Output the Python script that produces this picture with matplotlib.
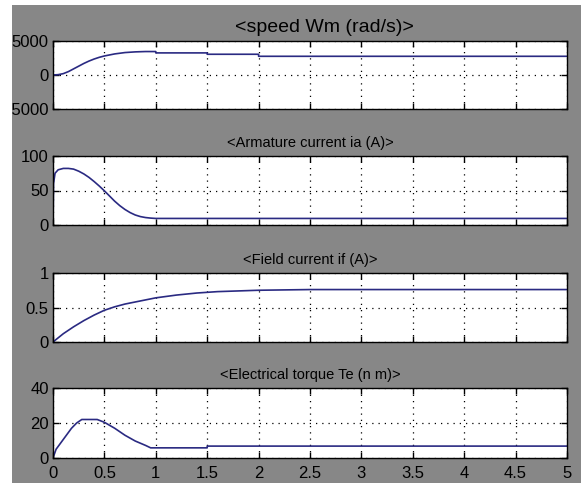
import matplotlib
matplotlib.use("Agg")
import matplotlib.pyplot as plt
from matplotlib.patches import Rectangle

# speed Wm (rad/s)
t_speed = [0, 0.05, 0.1, 0.15, 0.2, 0.25, 0.3, 0.35, 0.4, 0.45, 0.5, 0.6, 0.7,
           0.8, 0.9, 1.0, 1.0, 1.5, 1.5, 2.0, 2.0, 5.0]
speed = [0, 50, 200, 500, 900, 1300, 1700, 2050, 2350, 2600, 2800, 3100, 3300,
         3400, 3450, 3450, 3250, 3250, 3050, 3050, 2750, 2750]

# armature current ia (A)
t_ia = [0, 0.005, 0.02, 0.05, 0.1, 0.15, 0.2, 0.25, 0.3, 0.35, 0.4, 0.45, 0.5,
        0.55, 0.6, 0.65, 0.7, 0.75, 0.8, 0.85, 0.9, 0.95, 1.0, 5.0]
ia = [0, 60, 75, 80, 82, 82, 81, 78, 74, 69, 63, 56.5, 49.5,
      42, 34.5, 28, 22.5, 18, 14.5, 12.2, 10.8, 10, 9.5, 9.5]

# field current if (A)
t_if = [0, 0.1, 0.2, 0.3, 0.4, 0.5, 0.6, 0.7, 0.8, 0.9, 1.0, 1.2, 1.4, 1.6,
        1.8, 2.0, 2.5, 3.0, 5.0]
i_f = [0, 0.12, 0.22, 0.31, 0.39, 0.46, 0.51, 0.55, 0.58, 0.61, 0.64, 0.68,
       0.71, 0.73, 0.74, 0.75, 0.76, 0.76, 0.76]

# electrical torque Te (n m)
t_te = [0, 0.03, 0.08, 0.13, 0.18, 0.23, 0.28, 0.35, 0.43, 0.5, 0.6, 0.7, 0.8,
        0.9, 0.95, 1.5, 1.5, 5.0]
te = [0, 5, 9, 13, 17, 20, 22, 22, 22, 20.4, 17, 13, 9.7,
      7.2, 5.8, 5.8, 6.8, 6.8]

titles = ["<Armature current ia (A)>", "<Field current if (A)>",
          "<Electrical torque Te (n m)>"]
yticks = [[-5000, 0, 5000], [0, 50, 100], [0, 0.5, 1], [0, 20, 40]]
yticklabels = [["-5000", "0", "5000"], ["0", "50", "100"], ["0", "0.5", "1"],
               ["0", "20", "40"]]
xticks = [0, 0.5, 1, 1.5, 2, 2.5, 3, 3.5, 4, 4.5, 5]
xticklabels = ["0", "0.5", "1", "1.5", "2", "2.5", "3", "3.5", "4", "4.5", "5"]

W, H = 581, 483
BG = "#878787"
LINE = "#2a2a82"

plt.rcParams["font.family"] = ["Liberation Sans", "DejaVu Sans"]

fig = plt.figure(figsize=(W / 100, H / 100), dpi=100, facecolor=BG)

# axes boxes in pixels: (top, bottom)
boxes = [(41, 109), (156, 225), (273, 342), (388, 458)]
left, right = 53, 567
series = [(t_speed, speed), (t_ia, ia), (t_if, i_f), (t_te, te)]

for i, ((top, bot), (tx, yv)) in enumerate(zip(boxes, series)):
    ax = fig.add_axes([left / W, (H - bot) / H, (right - left) / W, (bot - top) / H])
    ax.plot(tx, yv, color=LINE, lw=1.2)
    ax.set_xlim(0, 5)
    ax.set_ylim(yticks[i][0], yticks[i][-1])
    ax.set_yticks(yticks[i])
    ax.set_yticklabels(yticklabels[i])
    ax.set_xticks(xticks)
    if i == 3:
        ax.set_xticklabels(xticklabels)
    else:
        ax.set_xticklabels([])
    ax.grid(True, color="black", linestyle=(0, (1, 4)), linewidth=0.9)
    ax.tick_params(direction="in", length=4, width=1, top=True, right=True,
                   labelsize=12, colors="black")
    ax.tick_params(axis="y", pad=3)
    ax.tick_params(axis="x", pad=6)
    for s in ax.spines.values():
        s.set_linewidth(1)

fig.text(324 / W, (H - 36) / H, "<speed Wm (rad/s)>", ha="center", va="bottom",
         fontsize=14)
for (top, bot), title in zip(boxes[1:], titles):
    fig.text(310 / W, (H - top + 6) / H, title, ha="center", va="bottom", fontsize=10.5)

# white margin strips at top and left
fig.add_artist(Rectangle((0, 0), 12 / W, 1, transform=fig.transFigure,
                         facecolor="white", edgecolor="none", zorder=20))
fig.add_artist(Rectangle((0, 1 - 5 / H), 1, 5 / H, transform=fig.transFigure,
                         facecolor="white", edgecolor="none", zorder=20))

fig.savefig("out.png", dpi=100, facecolor=BG)
